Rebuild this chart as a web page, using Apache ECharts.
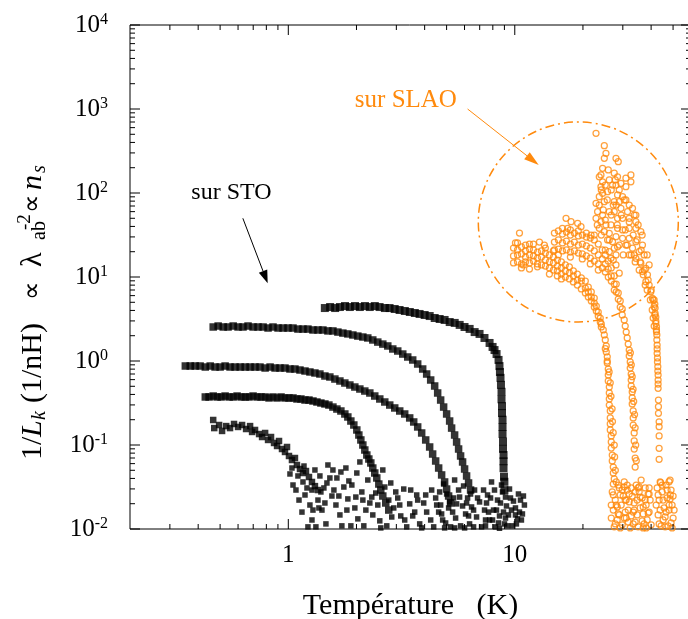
<!DOCTYPE html>
<html>
<head>
<meta charset="utf-8">
<script src="https://cdn.jsdelivr.net/npm/echarts@6/dist/echarts.min.js"></script>
<style>
html,body{margin:0;padding:0;background:#fff}
#chart{width:688px;height:619px}
</style>
</head>
<body>
<div id="chart"></div>
<script>
// ---------- axes ----------
const X_MIN = 0.2, X_MAX = 60;
const Y_MIN = 0.01, Y_MAX = 10000;
const xMajorTicks = [1, 10];
const xMinorTicks = [0.3, 0.4, 0.5, 0.6, 0.7, 0.8, 0.9, 2, 3, 4, 5, 6, 7, 8, 9, 20, 30, 40, 50];
const yDecades = [0.01, 0.1, 1, 10, 100, 1000, 10000];
const yMinorSteps = [2, 3, 4, 5, 6, 7, 8, 9];

// ---------- films on STO (1/Lk in 1/nH vs T in K) ----------
const stoFilmA = [[1.45,4.27],[1.53,4.39],[1.61,4.27],[1.69,4.39],[1.78,4.51],[1.87,4.39],[1.97,4.51],[2.07,4.39],[2.18,4.51],[2.29,4.39],[2.41,4.51],[2.53,4.39],[2.67,4.27],[2.80,4.27],[2.95,4.16],[3.10,4.05],[3.27,3.94],[3.44,3.83],[3.62,3.73],[3.80,3.63],[4.00,3.53],[4.21,3.43],[4.43,3.25],[4.66,3.16],[4.90,3.08],[5.16,2.91],[5.43,2.84],[5.71,2.69],[6.00,2.54],[6.32,2.41],[6.65,2.21],[6.99,2.10],[7.35,1.88],[7.74,1.64],[7.98,1.47],[8.14,1.35],[8.31,1.21],[8.48,1.03],[8.56,0.87],[8.60,0.74],[8.65,0.63],[8.69,0.52],[8.74,0.43],[8.74,0.35],[8.78,0.29],[8.78,0.24],[8.83,0.20],[8.83,0.164],[8.83,0.135],[8.87,0.11],[8.87,0.09],[8.92,0.076],[8.92,0.064],[8.92,0.053],[8.96,0.042],[9.0,0.0365],[9.0,0.029]];
const stoFilmB = [[0.466,2.54],[0.490,2.61],[0.516,2.54],[0.542,2.54],[0.571,2.61],[0.600,2.54],[0.631,2.54],[0.664,2.61],[0.699,2.54],[0.735,2.54],[0.774,2.54],[0.814,2.47],[0.856,2.54],[0.901,2.47],[0.948,2.47],[0.997,2.47],[1.049,2.47],[1.103,2.40],[1.161,2.40],[1.221,2.40],[1.285,2.34],[1.352,2.34],[1.422,2.34],[1.496,2.28],[1.574,2.28],[1.656,2.21],[1.742,2.15],[1.832,2.10],[1.928,2.04],[2.028,1.98],[2.134,1.93],[2.244,1.88],[2.361,1.78],[2.484,1.68],[2.614,1.59],[2.750,1.51],[2.893,1.39],[3.043,1.315],[3.202,1.21],[3.368,1.116],[3.543,1.028],[3.727,0.921],[3.921,0.803],[4.083,0.700],[4.253,0.594],[4.429,0.504],[4.566,0.416],[4.707,0.343],[4.852,0.283],[5.002,0.234],[5.157,0.193],[5.262,0.159],[5.425,0.1315],[5.536,0.1086],[5.649,0.0896],[5.765,0.074],[5.883,0.0628],[6.004,0.0518],[6.127,0.0428],[6.252,0.0353],[6.380,0.0291]];
const stoFilmC = [[0.351,0.872],[0.369,0.872],[0.388,0.872],[0.408,0.872],[0.430,0.848],[0.452,0.872],[0.475,0.848],[0.500,0.848],[0.526,0.872],[0.553,0.848],[0.582,0.848],[0.613,0.848],[0.645,0.848],[0.678,0.848],[0.713,0.848],[0.750,0.848],[0.790,0.825],[0.831,0.848],[0.874,0.825],[0.919,0.825],[0.967,0.825],[1.017,0.803],[1.070,0.803],[1.126,0.781],[1.185,0.760],[1.246,0.740],[1.311,0.720],[1.379,0.700],[1.451,0.663],[1.526,0.645],[1.606,0.610],[1.690,0.578],[1.777,0.547],[1.870,0.518],[1.967,0.490],[2.070,0.464],[2.177,0.439],[2.291,0.416],[2.409,0.383],[2.535,0.353],[2.667,0.325],[2.805,0.299],[2.951,0.276],[3.105,0.254],[3.266,0.234],[3.436,0.210],[3.579,0.188],[3.727,0.164],[3.881,0.139],[4.043,0.1148],[4.209,0.0947],[4.339,0.0781],[4.474,0.0645],[4.612,0.0532],[4.754,0.0440],[4.901,0.0363],[5.002,0.0299],[5.104,0.0247],[5.208,0.0204]];
const stoFilmD = [[0.430,0.373],[0.447,0.373],[0.466,0.383],[0.485,0.373],[0.505,0.373],[0.526,0.383],[0.548,0.373],[0.571,0.373],[0.594,0.383],[0.619,0.373],[0.645,0.373],[0.671,0.373],[0.699,0.383],[0.728,0.373],[0.758,0.373],[0.790,0.373],[0.822,0.363],[0.856,0.373],[0.892,0.363],[0.929,0.373],[0.967,0.363],[1.007,0.363],[1.049,0.363],[1.092,0.353],[1.137,0.353],[1.185,0.343],[1.234,0.343],[1.285,0.334],[1.338,0.325],[1.393,0.316],[1.451,0.308],[1.511,0.299],[1.574,0.283],[1.639,0.268],[1.707,0.254],[1.777,0.234],[1.832,0.2156],[1.889,0.193],[1.947,0.173],[2.007,0.151],[2.049,0.1315],[2.091,0.1148],[2.134,0.100],[2.177,0.0872],[2.222,0.076],[2.268,0.0681],[2.314,0.0611],[2.361,0.0532],[2.409,0.0464],[2.459,0.0405],[2.510,0.0343],[2.561,0.0291],[2.614,0.0247],[2.694,0.0204],[2.777,0.0168]];
const stoFilmE = [[0.466,0.1985],[0.471,0.159],[0.495,0.173],[0.510,0.147],[0.532,0.168],[0.553,0.159],[0.576,0.178],[0.600,0.164],[0.625,0.173],[0.651,0.155],[0.678,0.168],[0.692,0.143],[0.713,0.151],[0.743,0.135],[0.766,0.1245],[0.790,0.139],[0.814,0.1148],[0.839,0.1245],[0.865,0.1057],[0.892,0.0973],[0.910,0.1116],[0.938,0.0896],[0.967,0.0826],[0.987,0.0947],[1.007,0.074],[1.038,0.0663],[1.070,0.070],[1.092,0.0578],[1.126,0.0518],[1.161,0.0464],[1.197,0.049],[1.234,0.0416],[1.272,0.0363],[1.311,0.0324],[1.352,0.0291]];
const stoNoise = [[1.038,0.0532],[1.103,0.0428],[1.161,0.0363],[1.081,0.0291],[1.185,0.0254],[1.246,0.0193],[1.149,0.0159],[1.272,0.0128],[1.221,0.0106],[1.352,0.0221],[1.408,0.0168],[1.466,0.0115],[1.436,0.0308],[1.526,0.0405],[1.558,0.0247],[1.623,0.0193],[1.690,0.0147],[1.759,0.0316],[1.832,0.0228],[1.889,0.0109],[1.967,0.0178],[2.028,0.0132],[2.112,0.0276],[2.155,0.0109],[2.244,0.0383],[2.291,0.0204],[2.361,0.0147],[2.433,0.0268],[2.535,0.0125],[2.614,0.0504],[2.722,0.0109],[2.834,0.0353],[2.922,0.0178],[3.043,0.0234],[3.137,0.0143],[3.234,0.0299],[3.334,0.0106],[3.436,0.0199],[3.543,0.0143],[3.690,0.0254],[3.803,0.0115],[3.962,0.0204],[4.083,0.0159],[4.253,0.0128],[4.385,0.0106],[4.520,0.0193],[4.659,0.0276],[4.754,0.0151],[4.852,0.0343],[4.951,0.0118],[5.104,0.0178],[5.208,0.0106],[5.370,0.0234],[5.480,0.0135],[5.649,0.0291],[5.765,0.0109],[5.883,0.0188],[6.065,0.0151],[6.189,0.0234],[6.316,0.0115],[6.445,0.0183],[6.645,0.0291],[6.781,0.0139],[6.991,0.0210],[7.134,0.0106],[7.354,0.0168],[7.582,0.0254],[7.737,0.0128],[7.896,0.0363],[8.058,0.0168],[8.222,0.0106],[8.391,0.0221],[8.562,0.0143],[8.827,0.0276],[9.008,0.0115],[9.193,0.0188],[9.380,0.0147],[9.574,0.0234],[9.770,0.0109],[10.07,0.0178],[10.28,0.0132],[10.60,0.0221],[10.81,0.0151],[11.03,0.0193],[1.639,0.0405],[1.311,0.0504],[1.724,0.0109],[2.777,0.0221],[5.425,0.0383],[7.428,0.0109],[1.379,0.0428],[1.481,0.0353],[1.590,0.0291],[1.707,0.0477],[1.851,0.0373],[2.007,0.0464],[2.134,0.0221],[1.272,0.0291],[1.365,0.0178],[1.796,0.0532],
  [4.296,0.0291],[4.474,0.0234],[4.612,0.0159],[4.803,0.0128],[5.002,0.0261],[5.157,0.0210],[5.316,0.0159],[5.536,0.0199],[5.707,0.0240],[5.943,0.0325],[6.127,0.0204],[6.252,0.0143],[6.380,0.0261],[6.578,0.0168],[6.850,0.0234],[4.901,0.0103],[5.425,0.0103],[6.004,0.0103],[6.578,0.0106],[4.707,0.0193],
  [7.280,0.0291],[7.505,0.0204],[7.816,0.0234],[7.976,0.0128],[8.139,0.0291],[8.306,0.0168],[8.476,0.0118],[8.650,0.0204],[8.738,0.0334],[8.917,0.0159],[9.100,0.0240],[9.286,0.0109],[9.478,0.0299],[9.672,0.0168],[9.870,0.0215],[10.17,0.0115],[10.38,0.0261],[10.49,0.0159],[10.70,0.0128],[10.92,0.0247],[7.659,0.0159],[8.562,0.0102],[10.07,0.0147],[9.100,0.0135],[7.428,0.0128],
  [1.574,0.0504],[1.908,0.0334],[2.070,0.0628],[2.200,0.0168],[2.337,0.0240],[2.484,0.0193],[2.667,0.0316],[2.863,0.0139],[2.982,0.0276],[3.105,0.0193],[3.266,0.0128],[3.471,0.0291],[3.615,0.0159],[3.727,0.0221],[3.881,0.0103],[4.043,0.0254],[2.561,0.0103],[1.814,0.0168],[1.987,0.0240],[1.672,0.0247],
  [1.017,0.0452],[1.049,0.0334],[1.115,0.0221],[1.173,0.0562],[1.209,0.0308],[1.285,0.0168],[1.324,0.0106],[1.393,0.0276],[1.451,0.0204],[1.496,0.0578]];

// ---------- films on SLAO ----------
const slaoFilmA = [[9.87,22.1],[9.87,17.8],[9.87,14.7],[10.28,21.0],[10.28,18.3],[10.28,15.1],[10.70,22.8],[10.70,18.8],[10.70,14.3],[11.15,20.4],[11.15,17.3],[11.15,15.1],[11.61,21.5],[11.61,18.3],[11.61,14.7],[12.09,21.0],[12.09,17.8],[12.09,15.5],[12.59,19.8],[12.59,16.8],[12.59,14.3],[13.11,20.4],[13.11,17.3],[13.11,13.9],[13.65,19.3],[13.65,15.9],[13.65,13.5],[14.22,18.3],[14.22,15.1],[14.22,12.8],[14.81,17.3],[14.81,14.7],[14.81,12.1],[15.42,15.9],[15.42,13.5],[15.42,11.8],[16.06,15.1],[16.06,12.8],[16.06,10.85],[16.72,13.9],[16.72,11.8],[16.72,10.0],[17.42,13.2],[17.42,11.2],[17.42,9.47],[18.14,11.8],[18.14,10.3],[18.14,8.72],[18.89,10.85],[18.89,9.21],[18.89,8.03],[19.67,9.73],[19.67,8.96],[19.67,7.20],[20.49,8.96],[20.49,7.39],[20.49,6.45],[21.12,7.60],[21.12,6.63],[21.12,5.78],[21.77,6.63],[21.77,5.78],[21.77,5.18],[22.44,5.62],[22.44,4.90],[22.44,4.39],[22.91,4.51],[22.91,3.94],[23.37,3.83],[23.37,3.43],[23.85,3.25],[23.85,2.91],[24.10,2.76],[24.10,2.54],[24.59,2.34],[24.85,2.04],[25.10,1.78],[25.35,1.51],[25.35,1.28],[25.61,1.12],[25.61,0.947],[25.87,0.803],[25.87,0.681],[25.87,0.578],[26.14,0.490],[26.14,0.416],[26.14,0.353],[26.14,0.299],[26.40,0.254],[26.40,0.210],[26.40,0.178],[26.40,0.151],[26.67,0.128],[26.67,0.1086],[26.67,0.0921],[26.94,0.076],[26.94,0.0645],[27.22,0.0547],[27.22,0.0464],[27.49,0.0394],[27.22,0.0343],[10.49,33.4],[12.85,26.1],[10.07,25.4],[11.61,24.7],[13.51,24.0],[10.92,13.9],[14.22,10.85],
  [10.28,25.4],[11.15,24.0],[12.09,24.7],[10.70,12.8],[11.61,12.45],[12.59,13.2],[13.65,22.1],[14.81,20.4],[15.42,10.3],[16.06,9.47],
  [25.1,1.4],[25.6,1.0],[26.1,0.74],[26.4,0.55],[26.6,0.38],[26.9,0.27],[27.0,0.19],[27.2,0.14],[27.5,0.10],[27.6,0.072],[27.8,0.05]];
const slaoFilmB = [[14.96,33.4],[14.96,26.1],[14.96,21.0],[15.58,35.3],[15.58,27.6],[15.58,21.5],[16.23,32.5],[16.23,25.4],[16.23,20.4],[16.90,34.3],[16.90,26.8],[16.90,21.0],[17.60,31.6],[17.60,24.7],[17.60,19.8],[18.32,33.4],[18.32,26.1],[18.32,20.4],[19.08,30.8],[19.08,24.0],[19.08,19.3],[19.87,31.6],[19.87,24.7],[19.87,18.8],[20.70,29.9],[20.70,23.4],[20.70,17.8],[21.55,29.1],[21.55,22.1],[21.55,16.8],[22.44,27.6],[22.44,20.4],[22.44,15.5],[23.37,24.7],[23.37,18.3],[23.37,14.3],[24.34,21.0],[24.34,16.4],[24.34,12.8],[25.10,18.3],[25.10,14.3],[25.10,11.5],[25.87,15.5],[25.87,12.45],[25.87,10.0],[26.67,12.8],[26.67,10.3],[26.67,8.96],[27.49,10.3],[27.49,8.25],[27.49,7.0],[28.06,8.25],[28.06,6.63],[28.64,6.45],[28.64,5.47],[29.22,5.18],[29.22,4.39],[29.82,4.16],[29.82,3.53],[30.43,3.08],[30.74,2.61],[31.05,2.21],[31.37,1.88],[31.69,1.59],[32.01,1.35],[32.01,1.147],[32.34,0.973],[32.34,0.825],[32.66,0.700],[32.66,0.594],[32.66,0.504],[33.0,0.428],[33.0,0.363],[33.0,0.308],[33.33,0.254],[33.33,0.210],[33.33,0.173],[33.67,0.139],[33.67,0.1116],[33.67,0.0896],[34.01,0.070],[34.01,0.0547],[16.84,50.0],[17.72,45.5],[18.95,43.6],[19.61,39.7],[21.71,31.6],[17.12,38.0],
  [16.23,38.0],[17.60,36.3],[19.08,35.3],[20.70,33.4],[22.44,31.6],[15.58,18.3],[17.60,17.3],[19.87,16.4],[21.55,14.3],[23.37,12.1],
  [32.4,1.25],[32.7,0.9],[33.0,0.65],[33.3,0.46],[33.5,0.33],[33.8,0.23],[34.0,0.16],[34.2,0.10],[34.4,0.065]];
const slaoFilmC = [[22.84,514],[24.85,366],[25.27,297],[24.85,259],[27.98,259],[28.64,236],[24.42,197],[24.02,164],[23.61,156],[27.49,172],[28.43,156],[30.95,150],[32.57,164],[32.57,136],[24.42,136],[26.14,143],[27.02,124.5],[27.98,124.5],[29.43,130],[30.95,119],[24.02,119],[24.42,99.1],[25.69,103.6],[28.43,94.7],[29.92,90.3],[23.61,90.3],[22.84,75.4],[24.85,78.8],[27.49,78.8],[28.93,78.8],[30.95,82.6],[33.11,65.8],[34.26,54.7],[23.21,59.9],[24.42,54.7],[22.84,50.0],[24.02,45.5],[26.14,59.9],[27.49,59.9],[29.43,65.8],[31.47,59.9],[28.43,50.0],[29.92,50.0],[32.01,50.0],[34.26,45.5],[25.27,41.6],[26.59,41.6],[23.61,38.0],[28.43,38.0],[29.92,36.3],[32.01,38.0],[34.26,38.0],[36.04,34.6],[24.85,34.6],[26.14,33.1],[27.98,30.2],[29.92,28.9],[32.01,28.9],[34.26,26.3],[36.63,24.0],[25.69,27.6],[27.02,26.3],[28.43,22.9],[30.95,24.0],[33.11,22.0],[35.42,20.0],[37.27,18.3],[26.14,20.0],[27.49,22.0],[32.01,18.3],[34.26,16.7],[36.04,14.6],[37.92,12.7],[33.67,18.3],[27.98,18.3],[26.59,16.7],[27.98,13.9],[28.93,11.1],[36.63,11.6],[38.54,10.6],[37.92,8.79],[39.21,8.03],[39.89,6.68],[40.54,5.58],[41.25,4.43],[41.54,3.53],[41.97,2.81],[42.23,2.23],[35.78,15.1],[37.27,12.1],[38.81,9.21],[40.01,7.0],[40.83,5.33],[38.42,7.0],[39.69,5.33],[40.45,4.05],[40.83,3.25],[41.25,2.61],[41.25,5.33],[41.54,4.77],[41.66,4.27],[41.66,3.70],[41.97,3.34],[41.97,2.99],[42.23,2.56],[42.23,2.34],[42.40,2.04],[42.40,1.78],[42.52,1.55],[42.52,1.39],[42.52,1.235],[42.67,1.086],[42.67,0.973],[42.82,0.855],[42.82,0.760],[42.95,0.681],[42.95,0.594],[42.95,0.532],[42.95,0.473],[43.09,0.343],[43.09,0.286],[43.09,0.238],[43.39,0.189],[43.39,0.165],[43.39,0.128],[43.39,0.0914],[43.39,0.0676],
  [23.61,71.9],[24.59,62.8],[25.61,82.6],[26.67,54.7],[27.22,71.9],[28.35,41.6],[29.51,54.7],[30.74,36.3],[32.01,45.2],[33.33,31.6],[34.71,27.6],[36.14,20.9],[26.14,27.6],[25.10,47.7],[28.93,24.0],[30.12,18.3],[31.37,24.0],[32.66,18.3],[34.01,15.1],[35.42,12.1],[36.90,10.6],[37.65,8.03],[26.67,108.6],[28.93,108.6],[27.78,143],[25.10,124.5],[24.10,108.6],[25.87,188],[28.06,71.9],[30.43,82.6],[32.01,71.9],[33.67,54.7],[35.06,41.6],[36.52,31.6],[38.42,18.3],[39.21,13.9],[23.14,41.6],[24.10,31.6],[25.10,20.9],[27.22,15.9]];
const slaoNoise = [[26.94,0.0276],[27.78,0.0221],[27.22,0.0168],[28.35,0.0128],[27.49,0.0106],[28.93,0.0308],[29.51,0.0193],[28.64,0.0151],[30.12,0.0247],[30.74,0.0159],[29.82,0.0112],[31.37,0.0291],[32.01,0.0210],[31.05,0.0135],[32.34,0.0103],[33.0,0.0247],[33.67,0.0168],[32.66,0.0143],[34.36,0.0334],[34.71,0.0221],[34.01,0.0121],[35.42,0.0276],[35.78,0.0178],[35.06,0.0106],[36.52,0.0234],[36.90,0.0151],[37.65,0.0308],[38.03,0.0193],[37.27,0.0115],[38.81,0.0261],[39.21,0.0159],[38.42,0.0128],[28.06,0.0363],[29.22,0.0254],[30.43,0.0363],[31.69,0.0168],[33.33,0.0115],[36.14,0.0383],[39.61,0.0221],[26.67,0.0135],[28.35,0.0183],[31.05,0.0221],[34.01,0.0276],[36.90,0.0103],[42.52,0.0308],[43.39,0.0221],[42.95,0.0147],[44.29,0.0109],[44.74,0.0276],[45.65,0.0178],[45.19,0.0128],[46.59,0.0334],[47.06,0.0234],[48.02,0.0168],[47.54,0.0109],[49.00,0.0291],[49.51,0.0193],[50.02,0.0135],[43.84,0.0363],[46.12,0.0106],[48.51,0.0383],[42.09,0.0193],[30.43,0.0318],[35.42,0.0318],[39.21,0.0308],[44.05,0.0356],[48.02,0.0366],[48.60,0.0254],
  [27.22,0.0254],[28.06,0.0193],[28.93,0.0147],[29.82,0.0291],[30.74,0.0221],[31.69,0.0121],[32.66,0.0308],[33.67,0.0204],[34.71,0.0147],[35.78,0.0240],[36.90,0.0183],[38.03,0.0103],[39.21,0.0261],[26.67,0.0193],[27.78,0.0115],[29.22,0.0103],[30.43,0.0135],[32.01,0.0261],[33.33,0.0159],[35.06,0.0308],[36.52,0.0125],[37.65,0.0221],[38.81,0.0155],[40.01,0.0112],[28.64,0.0334],[31.37,0.0334],
  [42.95,0.0254],[43.84,0.0168],[45.19,0.0221],[46.12,0.0139],[47.06,0.0291],[48.02,0.0193],[49.00,0.0118],[50.02,0.0247],[43.39,0.0115],[44.74,0.0334],[46.59,0.0159],[48.51,0.0228],[50.53,0.0168],[49.51,0.0103]];

// ---------- annotations (data coordinates) ----------
const stoLabelAt = [0.373, 101];
const stoArrowFrom = [0.630, 50.0];
const stoArrowTo = [0.811, 8.41];
const slaoLabelAt = [1.967, 1280];
const slaoArrowFrom = [6.19, 1000];
const slaoArrowTo = [12.76, 215];
const slaoRingCenter = [19.08, 45.2];

const SERIF = '"Liberation Serif", "Times New Roman", serif';
const ORANGE = '#ff8a0d';

const isDecade = v => Math.abs(Math.log10(v) - Math.round(Math.log10(v))) < 1e-6;

const xTickData = xMajorTicks.map(t => [t, 1, 10]).concat(xMinorTicks.map(t => [t, 1, 5]));
const yTickData = [];
yDecades.forEach((d, i) => {
  yTickData.push([1, d, 10]);
  if (i < yDecades.length - 1) yMinorSteps.forEach(k => yTickData.push([1, d * k, 5]));
});

function tickSeries(data, dir) {
  return {
    type: 'custom', silent: true, clip: false, z: 6,
    encode: { x: 0, y: 1 },
    data: data,
    renderItem(params, api) {
      const len = api.value(2);
      const st = { stroke: '#000', lineWidth: 1 };
      if (dir === 'x') {
        const t = api.value(0);
        const b = api.coord([t, Y_MIN]), tp = api.coord([t, Y_MAX]);
        return { type: 'group', children: [
          { type: 'line', shape: { x1: b[0], y1: b[1], x2: b[0], y2: b[1] - len }, style: st },
          { type: 'line', shape: { x1: tp[0], y1: tp[1], x2: tp[0], y2: tp[1] + len }, style: st }
        ]};
      }
      const v = api.value(1);
      const l = api.coord([X_MIN, v]), r = api.coord([X_MAX, v]);
      return { type: 'group', children: [
        { type: 'line', shape: { x1: l[0], y1: l[1], x2: l[0] + len, y2: l[1] }, style: st },
        { type: 'line', shape: { x1: r[0], y1: r[1], x2: r[0] - len, y2: r[1] }, style: st }
      ]};
    }
  };
}

function squares(data, size) {
  return { type: 'scatter', data, symbol: 'rect', symbolSize: size, silent: true, z: 3,
    itemStyle: { color: '#000' } };
}
function rings(data) {
  return { type: 'scatter', data, symbol: 'circle', symbolSize: 6, silent: true, z: 4,
    itemStyle: { color: 'rgba(255,255,255,0)', borderColor: ORANGE, borderWidth: 1.25 } };
}

const chart = echarts.init(document.getElementById('chart'), null, { renderer: 'canvas' });

chart.setOption({
  animation: false,
  backgroundColor: '#fff',
  textStyle: { fontFamily: SERIF, color: '#000' },
  grid: { left: 130, right: -3, top: 25, bottom: 90, containLabel: false, outerBoundsMode: 'none',
    show: true, borderColor: '#000', borderWidth: 1, backgroundColor: 'transparent' },
  xAxis: {
    type: 'log', logBase: 10, min: X_MIN, max: X_MAX, splitNumber: 2,
    axisLine: { show: false }, axisTick: { show: false }, splitLine: { show: false },
    axisLabel: { margin: 14, fontSize: 25, fontFamily: SERIF, color: '#000',
      formatter: v => (isDecade(v) && xMajorTicks.some(t => Math.abs(t - v) < 1e-6)) ? String(Math.round(v)) : '' },
    name: 'Température   (K)', nameLocation: 'middle', nameGap: 62,
    nameTextStyle: { fontSize: 30, fontFamily: SERIF, color: '#000' }
  },
  yAxis: {
    type: 'log', logBase: 10, min: Y_MIN, max: Y_MAX, splitNumber: 6,
    axisLine: { show: false }, axisTick: { show: false }, splitLine: { show: false },
    axisLabel: { margin: 22, color: '#000',
      formatter: v => isDecade(v) ? '{b|10}{s|' + Math.round(Math.log10(v)) + '}' : '',
      rich: {
        b: { fontSize: 25, fontFamily: SERIF, color: '#000', lineHeight: 26 },
        s: { fontSize: 16, fontFamily: SERIF, color: '#000', lineHeight: 11, verticalAlign: 'top' }
      }
    }
  },
  series: [
    squares(stoNoise, 5.5),
    squares(stoFilmE, 6.5),
    squares(stoFilmD, 7.5),
    squares(stoFilmC, 7.5),
    squares(stoFilmB, 7.5),
    squares(stoFilmA, 8),
    rings(slaoNoise),
    rings(slaoFilmA),
    rings(slaoFilmB),
    rings(slaoFilmC),
    tickSeries(xTickData, 'x'),
    tickSeries(yTickData, 'y')
  ]
});

// ---------- annotations placed through the grid's coordinate system ----------
const toPx = p => chart.convertToPixel({ gridIndex: 0 }, p);

function arrow(from, to, color, headLen, headHalf) {
  const a = toPx(from), b = toPx(to);
  const dx = b[0] - a[0], dy = b[1] - a[1];
  const d = Math.hypot(dx, dy), ux = dx / d, uy = dy / d;
  const bx = b[0] - ux * headLen, by = b[1] - uy * headLen;
  return [
    { type: 'line', shape: { x1: a[0], y1: a[1], x2: bx, y2: by }, style: { stroke: color, lineWidth: 1 }, z: 10 },
    { type: 'polygon', shape: { points: [[b[0], b[1]], [bx - uy * headHalf, by + ux * headHalf], [bx + uy * headHalf, by - ux * headHalf]] },
      style: { fill: color }, z: 10 }
  ];
}

const stoText = toPx(stoLabelAt);
const slaoText = toPx(slaoLabelAt);
const ring = toPx(slaoRingCenter);

// vertical axis title, read bottom-to-top: 1/L_k (1/nH) ∝ λ_ab^-2 ∝ n_s
const sty = (fs, extra) => Object.assign({ fontSize: fs, fontFamily: SERIF, fill: '#000', lineHeight: 34 }, extra);
const yTitle = {
  type: 'text', x: 33, y: 460, rotation: Math.PI / 2, z: 10,
  style: {
    text: '{a|1/}{b|L}{c|k}{d|(1/nH)}{e|\u221D}{f|\u03BB}{g|ab}{h|-2}{e2|\u221D}{n|n}{s|s}',
    textAlign: 'left', textVerticalAlign: 'middle',
    rich: {
      a: sty(30, { width: 23 }),
      b: sty(30, { width: 17, fontStyle: 'italic' }),
      c: sty(20, { width: 17, fontStyle: 'italic', lineHeight: 4, verticalAlign: 'bottom' }),
      d: sty(30, { width: 103 }),
      e: sty(26, { width: 33 }),
      f: sty(30, { width: 27 }),
      g: sty(20, { width: 10, lineHeight: 6, verticalAlign: 'bottom' }),
      h: sty(19, { width: 17, lineHeight: 20, verticalAlign: 'top' }),
      e2: sty(26, { width: 23 }),
      n: sty(30, { width: 17, fontStyle: 'italic' }),
      s: sty(20, { fontStyle: 'italic', lineHeight: 4, verticalAlign: 'bottom' })
    }
  }
};

chart.setOption({
  graphic: [
    yTitle,
    { type: 'text', x: stoText[0], y: stoText[1], z: 10,
      style: { text: 'sur STO', fontSize: 24, fontFamily: SERIF, fill: '#000', textAlign: 'left', textVerticalAlign: 'middle' } },
    { type: 'text', x: slaoText[0], y: slaoText[1], z: 10,
      style: { text: 'sur SLAO', fontSize: 25, fontFamily: SERIF, fill: ORANGE, textAlign: 'left', textVerticalAlign: 'middle' } },
    { type: 'circle', shape: { cx: ring[0], cy: ring[1], r: 100 }, z: 9,
      style: { fill: 'none', stroke: ORANGE, lineWidth: 1.5, lineDash: [9, 4, 2, 4] } }
  ].concat(arrow(stoArrowFrom, stoArrowTo, '#000', 13, 4.5))
   .concat(arrow(slaoArrowFrom, slaoArrowTo, ORANGE, 15, 4.5))
});
</script>
</body>
</html>
